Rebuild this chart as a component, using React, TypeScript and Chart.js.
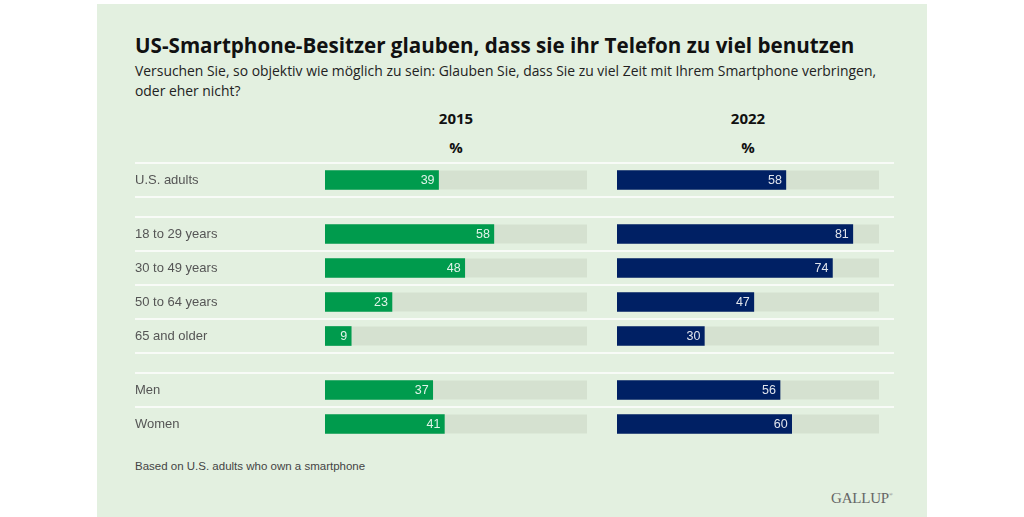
import React, { useEffect, useRef } from 'react';
import { Chart, registerables } from 'chart.js';

Chart.register(...registerables);

// ---------- data ----------
const titleText = 'US-Smartphone-Besitzer glauben, dass sie ihr Telefon zu viel benutzen';
const subtitleLine1 = 'Versuchen Sie, so objektiv wie möglich zu sein: Glauben Sie, dass Sie zu viel Zeit mit Ihrem Smartphone verbringen,';
const subtitleLine2 = 'oder eher nicht?';
const years = ['2015', '2022'];
const unitLabel = '%';
const footnote = 'Based on U.S. adults who own a smartphone';
const brand = 'GALLUP';

const labelsTotal = ['U.S. adults'];
const labelsAge = ['18 to 29 years', '30 to 49 years', '50 to 64 years', '65 and older'];
const labelsGender = ['Men', 'Women'];

const total2015 = [39];
const age2015 = [58, 48, 23, 9];
const gender2015 = [37, 41];

const total2022 = [58];
const age2022 = [81, 74, 47, 30];
const gender2022 = [56, 60];

const axisMax = 90;

// ---------- styles ----------
const PANEL_BG = 'rgb(227,240,224)';
const TRACK = 'rgb(213,225,208)';
const GREEN = 'rgb(0,155,77)';
const NAVY = 'rgb(0,32,100)';
const ROW_H = 34;
const SANS = '"Liberation Sans", Arial, sans-serif';
const HEAD = '"Open Sans", "Noto Sans", sans-serif';

function rowPlugin(lastLine: boolean) {
  return {
    id: 'rows',
    beforeDatasetsDraw(chart: any) {
      const { ctx } = chart;
      const y = chart.scales.y;
      const x = chart.scales.x;
      const n = chart.data.labels.length;
      ctx.save();
      // separator lines
      ctx.strokeStyle = '#ffffff';
      ctx.lineWidth = 1.5;
      const last = lastLine ? n : n - 1;
      for (let i = 0; i <= last; i++) {
        const py = y.getPixelForValue(i - 0.5);
        ctx.beginPath();
        ctx.moveTo(0, py);
        ctx.lineTo(chart.width, py);
        ctx.stroke();
      }
      // tracks
      const meta = chart.getDatasetMeta(0);
      ctx.fillStyle = TRACK;
      const x0 = x.getPixelForValue(0);
      const x1 = x.getPixelForValue(axisMax);
      meta.data.forEach((bar: any) => {
        const p = bar.getProps(['y', 'height'], true);
        ctx.fillRect(x0, p.y - p.height / 2, x1 - x0, p.height);
      });
      ctx.restore();
    },
    afterDatasetsDraw(chart: any) {
      const { ctx } = chart;
      const meta = chart.getDatasetMeta(0);
      const data = chart.data.datasets[0].data;
      ctx.save();
      ctx.fillStyle = 'rgba(255,255,255,0.88)';
      ctx.font = '12.5px ' + SANS;
      ctx.textAlign = 'right';
      ctx.textBaseline = 'middle';
      meta.data.forEach((bar: any, i: number) => {
        const p = bar.getProps(['x', 'y'], true);
        ctx.fillText(String(data[i]), p.x - 4, p.y + 0.5);
      });
      ctx.restore();
    },
  };
}

type BarProps = {
  labels: string[];
  values: number[];
  color: string;
  showLabels: boolean;
  left: number;
  top: number;
  width: number;
  lastLine: boolean;
};

function BarBlock({ labels, values, color, showLabels, left, top, width, lastLine }: BarProps) {
  const ref = useRef<HTMLCanvasElement>(null);
  const height = labels.length * ROW_H + 4;
  useEffect(() => {
    const chart = new Chart(ref.current as HTMLCanvasElement, {
      type: 'bar',
      data: {
        labels,
        datasets: [
          {
            data: values,
            backgroundColor: color,
            borderWidth: 0,
            barThickness: 19,
          },
        ],
      },
      options: {
        indexAxis: 'y',
        animation: false,
        responsive: false,
        maintainAspectRatio: false,
        events: [],
        layout: { padding: { top: 2, bottom: 2, left: showLabels ? 0 : 15, right: 15 } },
        plugins: { legend: { display: false }, tooltip: { enabled: false } },
        scales: {
          x: { display: false, min: 0, max: axisMax },
          y: showLabels
            ? {
                display: true,
                afterFit: (s: any) => {
                  s.width = 190;
                  s.paddingTop = 0;
                  s.paddingBottom = 0;
                },
                grid: { display: false },
                border: { display: false },
                ticks: {
                  crossAlign: 'far',
                  padding: 0,
                  color: '#555555',
                  font: { family: SANS, size: 13 },
                },
              }
            : { display: false },
        },
      } as any,
      plugins: [rowPlugin(lastLine)],
    });
    return () => chart.destroy();
  }, []);
  return (
    <div style={{ position: 'absolute', left, top, width, height }}>
      <canvas ref={ref} width={width} height={height} style={{ display: 'block', width, height }} />
    </div>
  );
}

const txt = (extra: React.CSSProperties): React.CSSProperties => ({
  position: 'absolute',
  margin: 0,
  whiteSpace: 'nowrap',
  ...extra,
});

export default function App() {
  const groups = [
    { labels: labelsTotal, v15: total2015, v22: total2022, top: 161, last: true },
    { labels: labelsAge, v15: age2015, v22: age2022, top: 215, last: true },
    { labels: labelsGender, v15: gender2015, v22: gender2022, top: 371, last: false },
  ];
  return (
    <div style={{ position: 'fixed', left: 0, top: 0, width: 1024, height: 517, background: '#fff', overflow: 'hidden' }}>
      <div style={{ position: 'absolute', left: 97, top: 4, width: 830, height: 513, background: PANEL_BG }} />
      <div style={txt({ left: 135, top: 32, lineHeight: '26px', fontSize: 20.6, fontWeight: 700, fontFamily: HEAD, color: '#111' })}>
        {titleText}
      </div>
      <div style={txt({ left: 135, top: 61, lineHeight: '19.5px', fontSize: 13.9, fontFamily: HEAD, color: '#222' })}>
        {subtitleLine1}
        <br />
        {subtitleLine2}
      </div>
      {years.map((yr, i) => (
        <React.Fragment key={yr}>
          <div style={txt({ left: i === 0 ? 325 : 617, width: 262, textAlign: 'center', top: 108, lineHeight: '20px', fontSize: 15, fontWeight: 700, fontFamily: HEAD, color: '#111' })}>
            {yr}
          </div>
          <div style={txt({ left: i === 0 ? 325 : 617, width: 262, textAlign: 'center', top: 136.5, lineHeight: '20px', fontSize: 15, fontWeight: 700, fontFamily: HEAD, color: '#111' })}>
            {unitLabel}
          </div>
        </React.Fragment>
      ))}
      {groups.map((g, gi) => (
        <React.Fragment key={gi}>
          <BarBlock labels={g.labels} values={g.v15} color={GREEN} showLabels={true} left={135} top={g.top} width={467} lastLine={g.last} />
          <BarBlock labels={g.labels} values={g.v22} color={NAVY} showLabels={false} left={602} top={g.top} width={292} lastLine={g.last} />
        </React.Fragment>
      ))}
      <div style={txt({ left: 135, top: 458, lineHeight: '16px', fontSize: 11.5, fontFamily: SANS, color: '#444' })}>{footnote}</div>
      <div style={txt({ left: 831, top: 488, lineHeight: '20px', fontSize: 15, fontFamily: '"Liberation Serif", "DejaVu Serif", serif', color: '#666', letterSpacing: '-0.2px' })}>
        {brand}
        <sup style={{ fontSize: 5, verticalAlign: 'top', lineHeight: '14px' }}>®</sup>
      </div>
    </div>
  );
}
